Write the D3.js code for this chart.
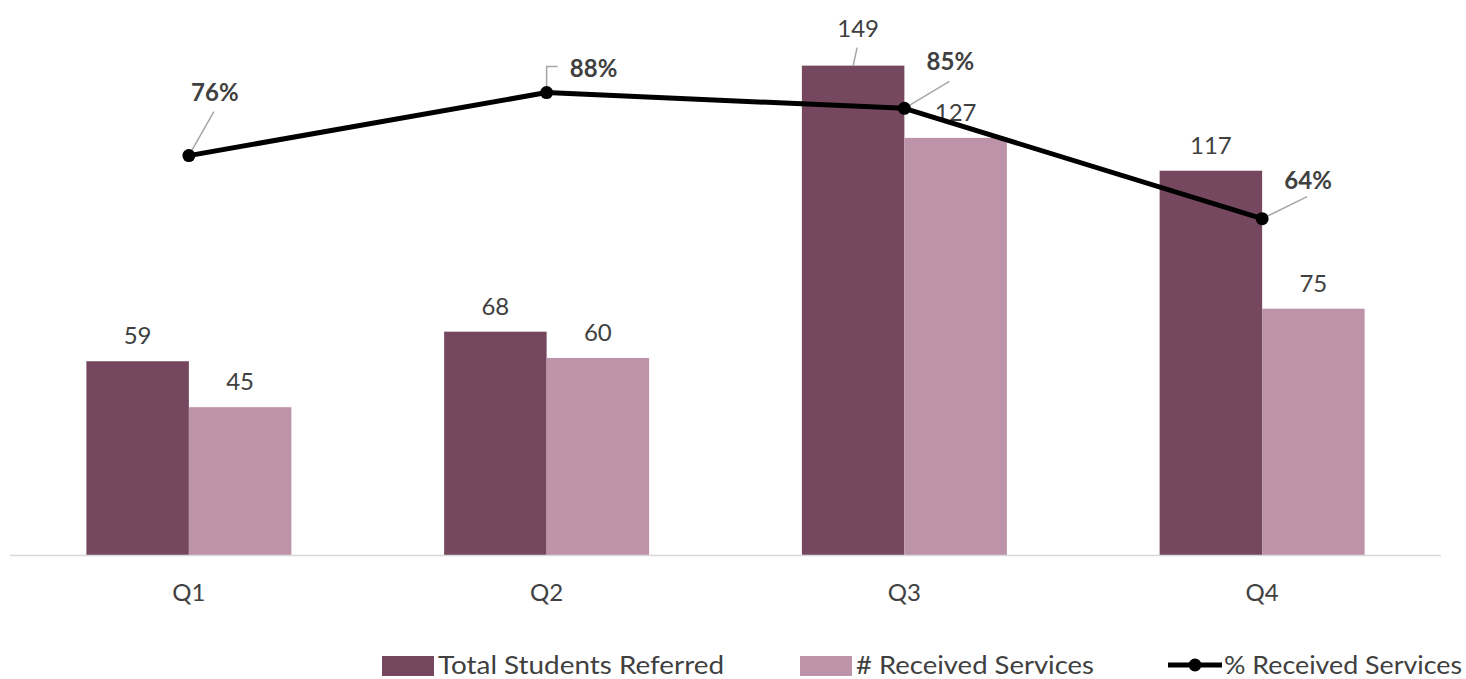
<!DOCTYPE html>
<html>
<head>
<meta charset="utf-8">
<script src="https://cdn.jsdelivr.net/npm/d3@7"></script>
<style>
  html, body { margin: 0; padding: 0; background: #fff; }
  svg { display: block; }
  text { font-family: Lato, "Open Sans", sans-serif; fill: #404040; }
</style>
</head>
<body>
<svg id="chart" width="1466" height="679"></svg>
<script>
// Quarterly referral data
const quarters = ["Q1", "Q2", "Q3", "Q4"];
const totalReferred = [59, 68, 149, 117];
const receivedServices = [45, 60, 127, 75];
const pctReceived = [76, 88, 85, 64];
const seriesNames = ["Total Students Referred", "# Received Services", "% Received Services"];

const colors = { total: "#76485F", received: "#BD93A9", line: "#000000" };

const svg = d3.select("#chart");
const plot = { left: 10, right: 1441, top: 29.5, bottom: 555 };

// Category scale: one band per quarter
const x0 = d3.scaleBand().domain(quarters).range([plot.left, plot.right]).padding(0);
const groupWidth = x0.bandwidth() * 0.573;
const x1 = d3.scaleBand().domain(["total", "received"]).range([-groupWidth / 2, groupWidth / 2]).padding(0);

// Primary axis (counts) and secondary axis (percent) share the same baseline
const y = d3.scaleLinear().domain([0, 160]).range([plot.bottom, plot.top]);
const y2 = d3.scaleLinear().domain([0, 100]).range([plot.bottom, plot.top]);

const cx = q => x0(q) + x0.bandwidth() / 2;

// Bars
const g = svg.append("g");
const seriesData = [
  { key: "total", values: totalReferred, color: colors.total },
  { key: "received", values: receivedServices, color: colors.received }
];
seriesData.forEach(s => {
  g.selectAll(null).data(quarters).enter().append("rect")
    .attr("x", q => cx(q) + x1(s.key))
    .attr("y", (q, i) => y(s.values[i]))
    .attr("width", x1.bandwidth())
    .attr("height", (q, i) => plot.bottom - y(s.values[i]))
    .attr("fill", s.color);
});

// Category axis line
svg.append("line")
  .attr("x1", plot.left).attr("x2", plot.right)
  .attr("y1", plot.bottom + 0.5).attr("y2", plot.bottom + 0.5)
  .attr("stroke", "#d9d9d9").attr("stroke-width", 1.5);

const xAxis = d3.axisBottom(x0).tickSize(0).tickPadding(0);
const ax = svg.append("g").attr("transform", `translate(0,${plot.bottom})`).call(xAxis);
ax.select(".domain").remove();
ax.selectAll("text")
  .attr("dy", 0).attr("y", 46)
  .style("font-size", "24px").style("fill", "#404040")
  .style("font-family", "Lato, sans-serif");

// Bar value labels; the Q3 total label is lifted with a leader line
const barLabelLift = { "total-Q3": 12 };
seriesData.forEach(s => {
  quarters.forEach((q, i) => {
    const bx = cx(q) + x1(s.key) + x1.bandwidth() / 2;
    const by = y(s.values[i]);
    const lift = barLabelLift[s.key + "-" + q] || 0;
    if (lift) {
      svg.append("line")
        .attr("x1", bx).attr("y1", by)
        .attr("x2", bx + 4).attr("y2", by - 18)
        .attr("stroke", "#a6a6a6").attr("stroke-width", 1.5);
    }
    svg.append("text")
      .attr("x", bx + (lift ? 5 : 0))
      .attr("y", by - 17 - lift)
      .attr("text-anchor", "middle")
      .style("font-size", "24px")
      .text(s.values[i]);
  });
});

// Percent line
const lineGen = d3.line().x((d, i) => cx(quarters[i])).y(d => y2(d));
svg.append("path")
  .datum(pctReceived)
  .attr("d", lineGen)
  .attr("fill", "none")
  .attr("stroke", colors.line)
  .attr("stroke-width", 5)
  .attr("stroke-linejoin", "round");

// Leader lines and percent labels (offsets relative to each point)
const labelOffsets = [
  { dx: 26, dy: -64, leader: "diag", lx: 25, ly: -44 },
  { dx: 47, dy: -25, leader: "elbow", lx: 11, ly: -26 },
  { dx: 46, dy: -48, leader: "diag", lx: 45, ly: -27 },
  { dx: 46, dy: -39, leader: "diag", lx: 45, ly: -22 }
];
pctReceived.forEach((v, i) => {
  const px = cx(quarters[i]), py = y2(v);
  const o = labelOffsets[i];
  const path = o.leader === "elbow"
    ? `M${px},${py} L${px},${py + o.ly} L${px + o.lx},${py + o.ly}`
    : `M${px},${py} L${px + o.lx},${py + o.ly}`;
  svg.append("path").attr("d", path).attr("fill", "none")
    .attr("stroke", "#a6a6a6").attr("stroke-width", 1.5);
});

svg.selectAll(".pt").data(pctReceived).enter().append("circle")
  .attr("cx", (d, i) => cx(quarters[i]))
  .attr("cy", d => y2(d))
  .attr("r", 6.5)
  .attr("fill", colors.line);

pctReceived.forEach((v, i) => {
  const px = cx(quarters[i]), py = y2(v);
  const o = labelOffsets[i];
  svg.append("text")
    .attr("x", px + o.dx).attr("y", py + o.dy)
    .attr("text-anchor", "middle").attr("dominant-baseline", "central")
    .style("font-size", "24px").style("font-weight", "bold")
    .text(v + "%");
});

// Legend
const legend = svg.append("g").attr("transform", "translate(0,664)");
const legendItems = [
  { name: seriesNames[0], type: "rect", color: colors.total, x: 382, w: 286 },
  { name: seriesNames[1], type: "rect", color: colors.received, x: 800, w: 238 },
  { name: seriesNames[2], type: "line", color: colors.line, x: 1168, w: 238 }
];
legendItems.forEach(it => {
  if (it.type === "rect") {
    legend.append("rect").attr("x", it.x).attr("y", -8).attr("width", 52).attr("height", 20).attr("fill", it.color);
  } else {
    legend.append("line").attr("x1", it.x).attr("x2", it.x + 54).attr("y1", 1).attr("y2", 1)
      .attr("stroke", it.color).attr("stroke-width", 5);
    legend.append("circle").attr("cx", it.x + 27).attr("cy", 1).attr("r", 6.5).attr("fill", it.color);
  }
  legend.append("text")
    .attr("x", it.x + 56).attr("y", 0)
    .attr("dominant-baseline", "central")
    .attr("textLength", it.w)
    .attr("lengthAdjust", "spacingAndGlyphs")
    .style("font-size", "25px")
    .text(it.name);
});
</script>
</body>
</html>
